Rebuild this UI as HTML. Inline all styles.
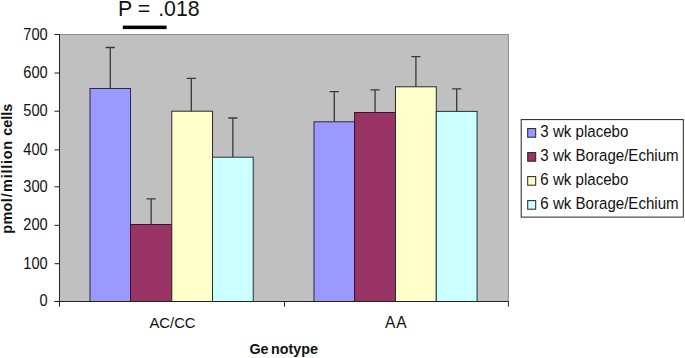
<!DOCTYPE html>
<html><head><meta charset="utf-8"><title>chart</title>
<style>html,body{margin:0;padding:0;background:#fff;}svg{display:block}text{font-family:"Liberation Sans",sans-serif;fill:#111}</style>
</head><body>
<svg width="685" height="358" viewBox="0 0 685 358">
<rect width="685" height="358" fill="#fff"/>
<rect x="59.5" y="34.5" width="448.9" height="267.0" fill="#c0c0c0" stroke="#8e8e8e" stroke-width="1"/>
<rect x="90" y="88.50" width="40.5" height="213.00" fill="#9999ff" stroke="#26264e" stroke-width="1"/>
<path d="M110.25 88.50V47.5M105.65 47.5H114.85" stroke="#383838" stroke-width="1.3" fill="none"/>
<rect x="130.5" y="224.50" width="41.30000000000001" height="77.00" fill="#993366" stroke="#3c1226" stroke-width="1"/>
<path d="M151.15 224.50V198.8M146.55 198.8H155.75" stroke="#383838" stroke-width="1.3" fill="none"/>
<rect x="171.8" y="111.20" width="40.69999999999999" height="190.30" fill="#ffffcc" stroke="#2c2c24" stroke-width="1"/>
<path d="M191.30 111.20V78.4M186.70 78.4H195.90" stroke="#383838" stroke-width="1.3" fill="none"/>
<rect x="212.5" y="157.20" width="40.69999999999999" height="144.30" fill="#ccffff" stroke="#243434" stroke-width="1"/>
<path d="M232.85 157.20V118M228.25 118H237.45" stroke="#383838" stroke-width="1.3" fill="none"/>
<rect x="314" y="121.80" width="40.60000000000002" height="179.70" fill="#9999ff" stroke="#26264e" stroke-width="1"/>
<path d="M334.30 121.80V91.6M329.70 91.6H338.90" stroke="#383838" stroke-width="1.3" fill="none"/>
<rect x="354.6" y="112.50" width="40.89999999999998" height="189.00" fill="#993366" stroke="#3c1226" stroke-width="1"/>
<path d="M375.05 112.50V89.8M370.45 89.8H379.65" stroke="#383838" stroke-width="1.3" fill="none"/>
<rect x="395.5" y="86.80" width="40.80000000000001" height="214.70" fill="#ffffcc" stroke="#2c2c24" stroke-width="1"/>
<path d="M415.90 86.80V56.7M411.30 56.7H420.50" stroke="#383838" stroke-width="1.3" fill="none"/>
<rect x="436.3" y="111.40" width="40.80000000000001" height="190.10" fill="#ccffff" stroke="#243434" stroke-width="1"/>
<path d="M456.70 111.40V88.9M452.10 88.9H461.30" stroke="#383838" stroke-width="1.3" fill="none"/>
<path d="M59.5 34.5V306.5M54.5 301.5H508.4M508.4 301.5v5M284.5 301.5v5" stroke="#222" stroke-width="1" fill="none"/>
<path d="M54.5 301.40H59.5" stroke="#222" stroke-width="1"/>
<text transform="translate(47.7,306.40) scale(1,1.12)" text-anchor="end" font-size="14.6">0</text>
<path d="M54.5 263.70H59.5" stroke="#222" stroke-width="1"/>
<text transform="translate(47.7,268.70) scale(1,1.12)" text-anchor="end" font-size="14.6">100</text>
<path d="M54.5 225.30H59.5" stroke="#222" stroke-width="1"/>
<text transform="translate(47.7,230.30) scale(1,1.12)" text-anchor="end" font-size="14.6">200</text>
<path d="M54.5 186.80H59.5" stroke="#222" stroke-width="1"/>
<text transform="translate(47.7,191.80) scale(1,1.12)" text-anchor="end" font-size="14.6">300</text>
<path d="M54.5 149.90H59.5" stroke="#222" stroke-width="1"/>
<text transform="translate(47.7,154.90) scale(1,1.12)" text-anchor="end" font-size="14.6">400</text>
<path d="M54.5 111.20H59.5" stroke="#222" stroke-width="1"/>
<text transform="translate(47.7,116.20) scale(1,1.12)" text-anchor="end" font-size="14.6">500</text>
<path d="M54.5 73.00H59.5" stroke="#222" stroke-width="1"/>
<text transform="translate(47.7,78.00) scale(1,1.12)" text-anchor="end" font-size="14.6">600</text>
<path d="M54.5 34.50H59.5" stroke="#222" stroke-width="1"/>
<text transform="translate(47.7,39.50) scale(1,1.12)" text-anchor="end" font-size="14.6">700</text>
<text transform="translate(172.5,328) scale(1,1.05)" text-anchor="middle" font-size="14.8">AC/CC</text>
<text transform="translate(385.1,328) scale(1,1.08)" font-size="15.5" letter-spacing="0.9">AA</text>
<text y="354" font-size="14.3" font-weight="bold"><tspan x="249.5">Ge</tspan> <tspan x="271">notype</tspan></text>
<text transform="translate(11.8,233.8) rotate(-90)" font-size="14.4" font-weight="bold"><tspan x="0" letter-spacing="0.4">pmol</tspan><tspan x="36.5">/</tspan><tspan x="41.9" letter-spacing="0.75">million</tspan> <tspan x="98.1">cells</tspan></text>
<text y="16.4" font-size="21.3"><tspan x="118">P =</tspan> <tspan x="158.2">.018</tspan></text>
<rect x="122.8" y="25.6" width="43.8" height="3.5" fill="#000"/>
<rect x="521.2" y="119.6" width="162.1" height="97.5" fill="#fff" stroke="#222" stroke-width="1"/>
<rect x="527.7" y="128.6" width="8" height="8.6" fill="#9999ff" stroke="#222" stroke-width="1"/>
<text transform="translate(540.3,137.1) scale(1,1.05)" font-size="15.1">3 wk placebo</text>
<rect x="527.7" y="152.6" width="8" height="8.6" fill="#993366" stroke="#222" stroke-width="1"/>
<text transform="translate(540.3,161.1) scale(1,1.05)" font-size="15.1">3 wk Borage/Echium</text>
<rect x="527.7" y="176.6" width="8" height="8.6" fill="#ffffcc" stroke="#222" stroke-width="1"/>
<text transform="translate(540.3,185.1) scale(1,1.05)" font-size="15.1">6 wk placebo</text>
<rect x="527.7" y="200.6" width="8" height="8.6" fill="#ccffff" stroke="#222" stroke-width="1"/>
<text transform="translate(540.3,209.1) scale(1,1.05)" font-size="15.1">6 wk Borage/Echium</text>
</svg>
</body></html>
